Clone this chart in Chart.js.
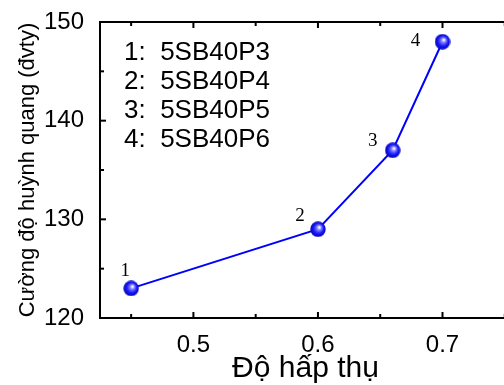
<!DOCTYPE html>
<html>
<head>
<meta charset="utf-8">
<script src="https://cdn.jsdelivr.net/npm/chart.js@4/dist/chart.umd.min.js"></script>
<style>
  html, body { margin: 0; padding: 0; background: #fff; overflow: hidden; }
  #wrap { width: 504px; height: 385px; overflow: hidden; }
  #wrap canvas { display: block; }
</style>
</head>
<body>
<!-- canvas a bit wider than the window: the right frame edge falls just outside, as in the original -->
<div id="wrap"><canvas id="chart" width="521" height="385"></canvas></div>
<script>
// data
const absorbance = [0.45, 0.6, 0.66, 0.7];
const intensity = [123, 129, 137, 148];
const pointNames = ['1', '2', '3', '4'];
const legendLines = ['1:  5SB40P3', '2:  5SB40P4', '3:  5SB40P5', '4:  5SB40P6'];
const xMajorTicks = [0.5, 0.6, 0.7];
const xMinorTicks = [0.45, 0.55, 0.65, 0.75];
const yMajorTicks = [120, 130, 140, 150];
const yMinorTicks = [125, 135, 145];

// quả cầu xanh làm marker
function makeBall(d) {
  const c = document.createElement('canvas');
  c.width = d; c.height = d;
  const g = c.getContext('2d');
  const r = d / 2;
  const grad = g.createRadialGradient(r + 1.5, r - 2, 0.5, r, r, r);
  grad.addColorStop(0, '#ffffff');
  grad.addColorStop(0.25, '#7f7fff');
  grad.addColorStop(0.6, '#1a1aff');
  grad.addColorStop(1, '#0000b0');
  g.fillStyle = grad;
  g.beginPath();
  g.arc(r, r, r - 0.3, 0, Math.PI * 2);
  g.fill();
  return c;
}
const ball = makeBall(16);

// label offsets relative to each point (pixels)
const labelOffsets = [[-6, -17], [-18, -13], [-20, -9], [-27, -1]];

const framePlugin = {
  id: 'frame',
  afterDraw(chart) {
    const { ctx, chartArea: a, scales: { x, y } } = chart;
    ctx.save();
    ctx.strokeStyle = '#000';
    ctx.lineWidth = 2;
    ctx.strokeRect(a.left, a.top, a.right - a.left, a.bottom - a.top);
    // ticks point inward, on bottom/top and left only
    const tick = (vals, len) => {
      vals.forEach(v => {
        const px = x.getPixelForValue(v);
        ctx.beginPath();
        ctx.moveTo(px, a.bottom); ctx.lineTo(px, a.bottom - len);
        ctx.moveTo(px, a.top); ctx.lineTo(px, a.top + len);
        ctx.stroke();
      });
    };
    const ytick = (vals, len) => {
      vals.forEach(v => {
        const py = y.getPixelForValue(v);
        ctx.beginPath();
        ctx.moveTo(a.left, py); ctx.lineTo(a.left + len, py);
        ctx.stroke();
      });
    };
    tick(xMajorTicks, 6); tick(xMinorTicks, 4);
    ytick(yMajorTicks, 6); ytick(yMinorTicks, 4);

    // point numbers
    const meta = chart.getDatasetMeta(0);
    ctx.fillStyle = '#000';
    ctx.font = '19px "Liberation Serif", "Times New Roman", serif';
    ctx.textAlign = 'center';
    ctx.textBaseline = 'middle';
    meta.data.forEach((p, i) => {
      ctx.fillText(pointNames[i], p.x + labelOffsets[i][0], p.y + labelOffsets[i][1]);
    });

    // legend text
    ctx.font = '26px "Liberation Sans", Arial, sans-serif';
    ctx.textAlign = 'left';
    legendLines.forEach((t, i) => {
      ctx.fillText(t, a.left + 24, a.top + 31 + i * 29);
    });
    ctx.restore();
  }
};

new Chart(document.getElementById('chart'), {
  type: 'line',
  data: {
    datasets: [{
      data: absorbance.map((v, i) => ({ x: v, y: intensity[i] })),
      borderColor: '#0000ff',
      borderWidth: 2,
      pointStyle: ball,
      pointRadius: 8,
      tension: 0
    }]
  },
  options: {
    responsive: false,
    animation: false,
    layout: { padding: { top: 22, right: 2, left: 0, bottom: 0 } },
    plugins: { legend: { display: false }, tooltip: { enabled: false } },
    scales: {
      x: {
        type: 'linear',
        min: 0.425,
        max: 0.755,
        grid: { display: false },
        border: { display: false },
        afterBuildTicks: s => { s.ticks = xMajorTicks.map(v => ({ value: v })); },
        afterFit: s => { s.height = 67; s.paddingLeft = 0; s.paddingRight = 0; },
        ticks: {
          color: '#000',
          padding: 5,
          maxRotation: 0,
          font: { family: '"Liberation Sans", Arial, sans-serif', size: 24 },
          callback: v => v.toFixed(1)
        },
        title: {
          display: true,
          text: 'Độ hấp thụ',
          color: '#000',
          padding: { top: 0, bottom: 1 },
          font: { family: '"Liberation Sans", Arial, sans-serif', size: 30, lineHeight: 1 }
        }
      },
      y: {
        min: 120,
        max: 150,
        grid: { display: false },
        border: { display: false },
        afterBuildTicks: s => { s.ticks = yMajorTicks.map(v => ({ value: v })); },
        afterFit: s => { s.width = 100; s.paddingTop = 0; s.paddingBottom = 0; },
        ticks: {
          color: '#000',
          padding: 8,
          font: { family: '"Liberation Sans", Arial, sans-serif', size: 24 }
        },
        title: {
          display: true,
          text: 'Cường độ huỳnh quang (đvty)',
          color: '#000',
          padding: { top: 17, bottom: 0 },
          font: { family: '"Liberation Sans", Arial, sans-serif', size: 22, lineHeight: 1 }
        }
      }
    }
  },
  plugins: [framePlugin]
});
</script>
</body>
</html>
